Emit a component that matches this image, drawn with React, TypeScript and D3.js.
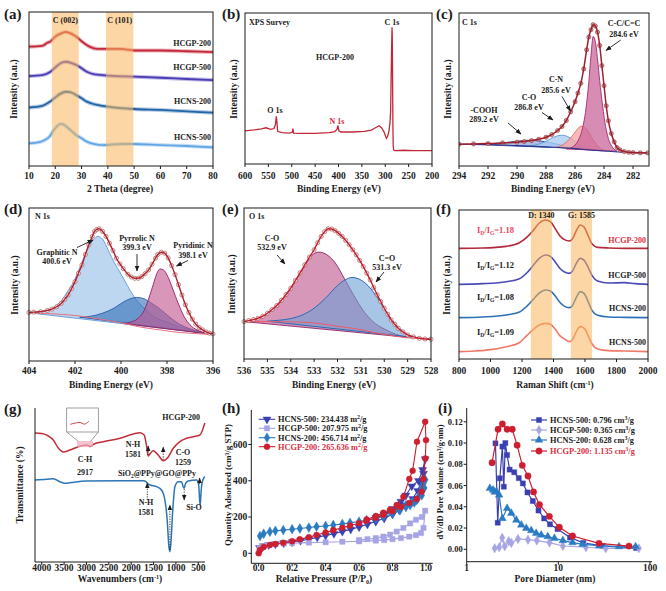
import React from 'react';
import * as d3 from 'd3';

type P = [number, number];
const FONT = '"Liberation Serif","Times New Roman",Times,serif';
const INK = '#1b1b1b';

/* ---------------- (a) XRD ---------------- */
const xrdTicks = [10, 20, 30, 40, 50, 60, 70, 80];
const xrdBands: P[] = [[18.7, 28.9], [39.3, 49.7]];
const xrdBandLabels = ['C (002)', 'C (101)'];
const xrdHCGP200: P[] = [[10, 77.5], [15, 78], [17, 80], [18, 80.7], [20, 84], [22, 86], [24, 87], [26, 86], [28, 84], [30, 81], [33, 77.5], [36, 76], [40, 76], [45, 76], [50, 75], [60, 75], [70, 74.5], [80, 74]];
const xrdHCGP500: P[] = [[10, 58.4], [15, 59], [18, 61], [20, 64], [22, 66.7], [24, 67.7], [26, 67], [28, 65.6], [30, 63.5], [32, 61.2], [35, 59.5], [38, 59], [42, 58.5], [50, 58], [60, 57.3], [70, 56.5], [80, 55.8]];
const xrdHCNS200: P[] = [[10, 38], [15, 39], [18, 41.8], [20, 44.5], [22, 47], [24, 48.2], [26, 47.8], [28, 46], [30, 44], [32, 41.8], [35, 40], [38, 39], [42, 38], [50, 37], [60, 36.4], [70, 35.5], [80, 34.6]];
const xrdHCNS500: P[] = [[10, 14.7], [14, 15.5], [16, 16.9], [18, 19.5], [19, 22.3], [20, 24.5], [22, 27.3], [23, 27], [25, 24.5], [28, 20], [30, 18], [32, 15.8], [35, 14.2], [38, 13.6], [45, 14.3], [50, 14.3], [60, 13.6], [70, 13], [80, 12.1]];
const xrdNames = ['HCGP-200', 'HCGP-500', 'HCNS-200', 'HCNS-500'];
const xrdColors = ['#c3283a', '#4a3db5', '#2264a8', '#62a6e6'];

/* ---------------- (b) XPS survey ---------------- */
const surveyTicks = [600, 550, 500, 450, 400, 350, 300, 250, 200];
const surveyHCGP200: P[] = [[600, 22], [580, 22.6], [565, 23.2], [555, 24], [545, 23], [538, 23.5], [535, 26], [533, 31.5], [531.5, 27], [530, 21.5], [520, 20.8], [505, 20.5], [499, 21], [497.5, 23.5], [496, 20.5], [480, 20.3], [450, 20.3], [420, 20.8], [408, 21.5], [403, 23], [401.5, 25.5], [399, 22], [395, 21.2], [370, 21.2], [345, 21.6], [330, 22.5], [318, 24.5], [313, 25.3], [308, 24], [303, 21.5], [300, 19], [297.5, 17], [295, 18.2], [292, 22], [290, 27], [288.5, 35], [287.5, 55], [286.5, 75], [285.5, 90.5], [285, 85], [284.3, 55], [283.6, 25], [283, 12], [282, 9.3], [280, 8.8], [260, 9.1], [240, 8.9], [200, 8.8]];

/* ---------------- (c) C 1s ---------------- */
const c1sTicks = [294, 292, 290, 288, 286, 284, 282];
const c1sRaw: P[] = [[294, 65], [293, 66], [292, 67], [291, 69], [290, 71], [289.5, 73], [289, 76], [288.5, 80], [288, 86], [287.6, 94], [287.2, 106], [286.9, 118], [286.6, 136], [286.3, 162], [286, 192], [285.8, 218], [285.6, 247], [285.4, 290], [285.2, 347], [285.05, 385], [284.9, 407], [284.75, 422], [284.6, 418], [284.45, 400], [284.3, 360], [284.15, 300], [284, 240], [283.85, 180], [283.7, 135], [283.5, 97], [283.3, 72], [283.1, 55], [282.9, 48], [282.6, 43], [282.3, 41], [282, 40], [281.5, 39.5], [281, 39]];
const c1sBase: P[] = [[294, 65], [292, 64], [290, 61], [288, 57], [286, 52], [285, 48], [284, 45], [283, 42], [282, 40], [281, 39]];
const c1sCC: P[] = [[286.6, 51], [286.2, 56], [285.8, 75], [285.5, 110], [285.25, 170], [285.05, 250], [284.9, 330], [284.75, 387], [284.6, 372], [284.45, 320], [284.3, 255], [284.1, 180], [283.9, 120], [283.7, 82], [283.4, 55], [283.1, 44]];
const c1sCN: P[] = [[287.3, 56], [286.9, 62], [286.5, 75], [286.1, 95], [285.8, 112], [285.6, 119], [285.4, 117], [285.1, 104], [284.8, 82], [284.5, 63], [284.2, 51], [283.9, 46]];
const c1sCO: P[] = [[289.2, 60], [288.7, 63], [288.2, 70], [287.7, 81], [287.3, 89], [286.9, 92], [286.5, 88], [286.1, 77], [285.7, 64], [285.3, 55], [284.9, 50]];
const c1sCOOH: P[] = [[292.8, 64], [292, 66], [291, 69], [290.2, 73], [289.6, 76], [289.2, 77], [288.7, 76], [288, 72], [287.3, 66], [286.6, 58], [286, 53]];

/* ---------------- (d) N 1s ---------------- */
const n1sTicks = [404, 402, 400, 398, 396];
const n1sRaw: P[] = [[404, 145], [403.8, 146], [403.5, 147], [403.2, 151], [403, 155], [402.8, 162], [402.6, 172], [402.45, 184], [402.3, 197], [402.15, 216], [402, 237], [401.85, 262], [401.7, 287], [401.55, 318], [401.4, 347], [401.25, 372], [401.15, 387], [401.05, 393], [400.95, 395], [400.8, 387], [400.65, 372], [400.5, 352], [400.35, 330], [400.2, 307], [400.05, 290], [399.9, 276], [399.7, 259], [399.55, 251], [399.4, 247], [399.25, 247], [399.1, 252], [398.95, 261], [398.8, 272], [398.65, 289], [398.5, 307], [398.4, 318], [398.25, 325], [398.1, 322], [397.95, 308], [397.8, 285], [397.65, 258], [397.5, 228], [397.35, 197], [397.2, 168], [397.05, 145], [396.9, 125], [396.75, 110], [396.6, 100], [396.45, 93], [396.3, 87], [396.15, 83], [396, 81]];
const n1sBase: P[] = [[404, 144], [403, 141], [402, 136], [401.1, 127], [400, 114], [399.2, 102], [398, 90], [397.7, 87], [397, 83], [396, 79]];
const n1sGraphitic: P[] = [[404, 144], [403.5, 148], [403, 158], [402.6, 180], [402.3, 210], [402, 245], [401.7, 295], [401.4, 340], [401.2, 362], [401, 372], [400.8, 364], [400.55, 330], [400.3, 295], [400.06, 267], [399.8, 235], [399.48, 197], [399.2, 172], [398.9, 152], [398.5, 130], [398.03, 117], [397.6, 105], [397.16, 97], [396.6, 88], [396.1, 81]];
const n1sPyrrolic: P[] = [[401.8, 131], [401.3, 134], [400.8, 143], [400.3, 158], [399.9, 176], [399.6, 186], [399.33, 190], [399.0, 186], [398.7, 174], [398.3, 155], [397.9, 132], [397.5, 112], [397.0, 96], [396.5, 86], [396, 80]];
const n1sPyridinic: P[] = [[399.9, 112], [399.6, 116], [399.3, 125], [399.0, 150], [398.8, 185], [398.6, 228], [398.45, 260], [398.3, 275], [398.15, 272], [397.95, 250], [397.75, 215], [397.5, 170], [397.25, 132], [397.0, 108], [396.7, 93], [396.4, 85], [396.1, 80]];

/* ---------------- (e) O 1s ---------------- */
const o1sTicks = [536, 535, 534, 533, 532, 531, 530, 529, 528];
const o1sRaw: P[] = [[536, 112], [535.8, 115], [535.6, 118], [535.4, 122], [535.2, 128], [535, 137], [534.8, 148], [534.6, 160], [534.4, 176], [534.2, 193], [534, 212], [533.8, 235], [533.6, 258], [533.4, 282], [533.2, 305], [533, 327], [532.85, 348], [532.7, 367], [532.55, 381], [532.4, 390], [532.25, 389], [532.1, 384], [531.95, 376], [531.8, 367], [531.65, 355], [531.5, 342], [531.35, 327], [531.2, 312], [531.05, 295], [530.9, 277], [530.75, 257], [530.6, 237], [530.45, 214], [530.3, 192], [530.15, 172], [530, 152], [529.85, 134], [529.7, 117], [529.55, 104], [529.4, 92], [529.2, 81], [529, 72], [528.75, 66], [528.5, 62], [528.25, 60], [528, 59]];
const o1sBase: P[] = [[536, 112], [535, 112], [534, 111], [533, 108], [532.66, 105], [532, 98], [531, 88], [530.5, 80], [530, 74], [529.1, 64], [528.5, 61], [528, 59]];
const o1sCO: P[] = [[536, 112], [535.5, 118], [535, 135], [534.5, 168], [534, 212], [533.5, 268], [533.1, 310], [532.8, 320], [532.5, 314], [532.1, 288], [531.7, 240], [531.3, 190], [530.9, 145], [530.5, 113], [530, 90], [529.5, 74], [529, 65]];
const o1sCdO: P[] = [[535, 113], [534.5, 116], [534, 121], [533.5, 132], [533, 152], [532.5, 183], [532, 220], [531.65, 238], [531.38, 244], [531.1, 240], [530.7, 220], [530.3, 184], [529.9, 140], [529.5, 103], [529.1, 78], [528.6, 64], [528, 59]];

/* ---------------- (f) Raman ---------------- */
const ramanTicks = [800, 1000, 1200, 1400, 1600, 1800, 2000];
const ramanBands: P[] = [[1256, 1390], [1510, 1645]];
const ramanBandLabels = ['D: 1340', 'G: 1585'];
const ramanHCGP200: P[] = [[800, 332], [950, 333], [1100, 338], [1180, 348], [1230, 365], [1270, 385], [1310, 408], [1350, 417], [1380, 412], [1410, 392], [1440, 370], [1470, 358], [1500, 354], [1520, 360], [1545, 385], [1570, 402], [1595, 395], [1620, 370], [1645, 345], [1680, 335], [1750, 333], [1850, 332], [2000, 332]];
const ramanHCGP500: P[] = [[800, 224], [950, 226], [1100, 232], [1180, 240], [1230, 258], [1270, 280], [1310, 302], [1350, 312], [1380, 308], [1410, 292], [1440, 272], [1470, 261], [1500, 257], [1520, 263], [1545, 287], [1570, 302], [1595, 296], [1620, 275], [1645, 250], [1680, 234], [1750, 228], [1850, 229], [1920, 226], [2000, 224]];
const ramanHCNS200: P[] = [[800, 124], [950, 126], [1100, 132], [1180, 140], [1230, 158], [1270, 178], [1310, 198], [1350, 207], [1380, 204], [1410, 190], [1440, 170], [1470, 158], [1500, 154], [1520, 160], [1545, 185], [1570, 202], [1595, 196], [1620, 172], [1645, 145], [1680, 131], [1750, 126], [1850, 125], [2000, 124]];
const ramanHCNS500: P[] = [[800, 22], [900, 24], [1000, 28], [1100, 37], [1180, 48], [1230, 70], [1270, 88], [1310, 102], [1350, 107], [1380, 104], [1410, 90], [1440, 70], [1470, 60], [1500, 52], [1520, 58], [1545, 82], [1570, 97], [1595, 92], [1620, 70], [1645, 45], [1680, 30], [1750, 25], [1850, 24], [2000, 22]];
const ramanRatios = ['1.18', '1.12', '1.08', '1.09'];
const ramanColors = ['#b3283a', '#4a4ab8', '#2e70b8', '#f07868'];

/* ---------------- (g) FTIR ---------------- */
const ftirTicks = [4000, 3500, 3000, 2500, 2000, 1500, 1000, 500];
const ftirHCGP200: P[] = [[4150, 129], [4000, 128.5], [3850, 126], [3741, 122], [3630, 114], [3517, 110], [3369, 112], [3184, 115.3], [3000, 117], [2917, 115.5], [2830, 118], [2624, 120.3], [2249, 123.7], [1950, 128], [1800, 129.3], [1710, 127], [1653, 115.3], [1620, 106], [1570, 108.7], [1508, 111.3], [1396, 107], [1284, 101.3], [1172, 105], [1060, 113.7], [911, 120.3], [762, 123.7], [614, 125.3], [465, 127], [405, 132], [368, 137], [353, 139]];
const ftirSiO2: P[] = [[4150, 82], [3890, 82.7], [3741, 83.3], [3592, 80.3], [3480, 78.7], [3369, 79.3], [3000, 81], [2249, 81.3], [1730, 81.3], [1660, 80], [1640, 78.7], [1570, 77], [1433, 75.3], [1322, 72], [1247, 62], [1195, 42], [1157, 15.3], [1135, 10.3], [1112, 19], [1075, 49], [1023, 75.3], [948, 80.3], [874, 80.3], [838, 75.3], [815, 73.7], [785, 78.7], [726, 81], [539, 82], [500, 79], [487, 75.3], [470, 62], [457, 57], [440, 68], [428, 75.3], [391, 82.7], [353, 85.3]];

/* ---------------- (h) N2 isotherms ---------------- */
const betTicksX = [0, 0.2, 0.4, 0.6, 0.8, 1.0];
const betTicksY = [0, 200, 400, 600];
const betHCNS500: P[] = [[0.005, 30], [0.03, 40], [0.06, 46], [0.1, 51], [0.15, 56], [0.2, 62], [0.25, 70], [0.3, 78], [0.35, 88], [0.4, 98], [0.45, 108], [0.5, 120], [0.55, 132], [0.6, 145], [0.65, 160], [0.7, 175], [0.75, 193], [0.8, 215], [0.84, 238], [0.88, 265], [0.92, 300], [0.95, 345], [0.97, 390], [0.985, 440], [0.995, 520], [0.98, 460], [0.955, 400], [0.915, 370], [0.88, 320], [0.85, 285], [0.8, 245], [0.75, 215], [0.7, 195]];
const betHCGP500: P[] = [[0.005, 28], [0.02, 38], [0.05, 44], [0.1, 50], [0.15, 54], [0.2, 56], [0.3, 59], [0.4, 61], [0.5, 64], [0.6, 66], [0.7, 70], [0.75, 73], [0.8, 78], [0.85, 84], [0.9, 92], [0.94, 100], [0.97, 112], [0.985, 140], [0.995, 235], [0.975, 200], [0.94, 185], [0.905, 165], [0.865, 140], [0.825, 120], [0.785, 103], [0.745, 92], [0.7, 84], [0.65, 78], [0.6, 74]];
const betHCNS200: P[] = [[0.008, 95], [0.03, 108], [0.067, 119], [0.1, 124], [0.147, 128], [0.2, 133], [0.246, 137], [0.3, 142], [0.346, 147], [0.4, 151], [0.446, 156], [0.5, 162], [0.546, 168], [0.6, 175], [0.645, 183], [0.7, 192], [0.745, 202], [0.8, 218], [0.845, 238], [0.88, 255], [0.905, 266], [0.93, 280], [0.944, 293], [0.964, 330], [0.974, 360], [0.984, 385], [0.996, 405], [0.99, 360], [0.975, 320], [0.95, 300], [0.92, 285], [0.88, 265], [0.84, 245], [0.8, 228], [0.75, 212]];
const betHCGP200: P[] = [[0, 0], [0.008, 18], [0.03, 35], [0.067, 46], [0.1, 51], [0.147, 58], [0.2, 67], [0.246, 77], [0.3, 89], [0.346, 101], [0.4, 115], [0.446, 128], [0.5, 141], [0.546, 153], [0.6, 166], [0.645, 180], [0.7, 196], [0.745, 212], [0.8, 232], [0.85, 255], [0.9, 278], [0.944, 300], [0.974, 340], [0.984, 410], [0.996, 523], [1.0, 624], [0.995, 725], [0.946, 615], [0.92, 455], [0.9, 410], [0.865, 312], [0.825, 266], [0.785, 240], [0.745, 224], [0.7, 206], [0.645, 186]];
const betLegend = ['HCNS-500: 234.438 m', 'HCGP-500: 207.975 m', 'HCNS-200: 456.714 m', 'HCGP-200: 265.636 m'];

/* ---------------- (i) pore size ---------------- */
const psdTicksX = [1, 10, 100];
const psdTicksY = [0, 0.02, 0.04, 0.06, 0.08, 0.1, 0.12];
const psdHCNS500: P[] = [[2.06, 0.0997], [2.18, 0.025], [2.3, 0.0668], [2.45, 0.0967], [2.54, 0.0589], [2.64, 0.1], [2.76, 0.0887], [2.94, 0.075], [3.3, 0.0725], [3.7, 0.067], [4.1, 0.062], [4.6, 0.0535], [5.27, 0.0454], [6.07, 0.0365], [7.0, 0.029], [8.1, 0.0235], [9.8, 0.019], [13.4, 0.011], [18.7, 0.006], [30.8, 0.003], [70.6, 0.0012]];
const psdHCGP500: P[] = [[2.02, 0.0009], [2.26, 0.0019], [2.44, 0.0109], [2.6, 0.0028], [2.87, 0.0075], [3.07, 0.006], [3.63, 0.0097], [4.66, 0.009], [5.82, 0.0082], [8.0, 0.0063], [11.2, 0.0031], [20, 0.0019], [32.9, 0.0009], [75.5, 0.0009]];
const psdHCNS200: P[] = [[1.79, 0.0574], [1.94, 0.0558], [2.02, 0.054], [2.11, 0.0543], [2.26, 0.0511], [2.45, 0.029], [2.76, 0.0386], [3.07, 0.034], [3.48, 0.0275], [3.94, 0.0229], [4.47, 0.0198], [5.06, 0.0176], [5.73, 0.0151], [6.5, 0.0135], [7.67, 0.012], [9.06, 0.0104], [11.2, 0.0082], [14.3, 0.0063], [18.4, 0.0047], [27.9, 0.0034], [45.9, 0.0025], [69.5, 0.0025]];
const psdHCGP200: P[] = [[1.89, 0.0815], [2.2, 0.113], [2.45, 0.118], [2.76, 0.113], [3.14, 0.113], [3.55, 0.098], [4.04, 0.079], [4.66, 0.069], [5.36, 0.054], [6.22, 0.042], [7.98, 0.031], [10.25, 0.0207], [14.3, 0.0125], [27.8, 0.0056], [59, 0.003]];
const psdLegend = ['HCNS-500: 0.796 cm', 'HCGP-500: 0.365 cm', 'HCNS-200: 0.628 cm', 'HCGP-200: 1.135 cm'];

const sorbColors = ['#3b40b0', '#a7a4e4', '#2a7bc2', '#cc1f2f'];

/* ---------------- helpers ---------------- */
const lineOf = (sx: any, sy: any, curve: any = d3.curveMonotoneX) =>
  d3.line<P>().x(d => sx(d[0])).y(d => sy(d[1])).curve(curve);

function Box({ x0, x1, y0, y1 }: any) {
  return <rect x={x0} y={y0} width={x1 - x0} height={y1 - y0} fill="none" stroke={INK} strokeWidth={1} />;
}
function XAxis({ s, ticks, y, ly, fmt }: any) {
  return (
    <g>
      {ticks.map((t: number) => (
        <g key={t}>
          <line x1={s(t)} x2={s(t)} y1={y} y2={y + 3} stroke={INK} strokeWidth={1} />
          <text x={s(t)} y={ly} textAnchor="middle" fontSize={9.5} fontWeight={700} fill={INK}>{fmt ? fmt(t) : t}</text>
        </g>
      ))}
    </g>
  );
}
function YAxis({ s, ticks, x, fmt, size = 9.5 }: any) {
  return (
    <g>
      {ticks.map((t: number) => (
        <g key={t}>
          <line x1={x - 3} x2={x} y1={s(t)} y2={s(t)} stroke={INK} strokeWidth={1} />
          <text x={x - 4} y={s(t) + 3.2} textAnchor="end" fontSize={size} fontWeight={700} fill={INK}>{fmt ? fmt(t) : t}</text>
        </g>
      ))}
    </g>
  );
}
function YTitle({ x, y, children, size = 9.5 }: any) {
  return (
    <text transform={`translate(${x},${y}) rotate(-90)`} textAnchor="middle" fontSize={size} fontWeight={700} fill={INK}>{children}</text>
  );
}
function L({ x, y, a = 'middle', s = 8, c = INK, children }: any) {
  return <text x={x} y={y} textAnchor={a} fontSize={s} fontWeight={700} fill={c}>{children}</text>;
}
function Tag({ x, y, t }: any) {
  return <text x={x} y={y} fontSize={15} fontWeight={700} fill={INK}>{t}</text>;
}
function Arr({ x1, y1, x2, y2, dash }: any) {
  return <line x1={x1} y1={y1} x2={x2} y2={y2} stroke={INK} strokeWidth={dash ? 0.8 : 0.9} strokeDasharray={dash ? '1.3 1.2' : undefined} markerEnd="url(#ah)" />;
}
function Dots({ pts, sx, sy, stroke, fill }: any) {
  return (
    <g>
      {pts.map((d: P, i: number) => (
        <circle key={i} cx={sx(d[0])} cy={sy(d[1])} r={2.1} fill={fill} stroke={stroke} strokeWidth={0.6} />
      ))}
    </g>
  );
}
function Sym({ type, x, y, size, fill, rot = 0 }: any) {
  const p = d3.symbol().type(type).size(size)() as string;
  return <path d={p} transform={`translate(${x},${y}) rotate(${rot})`} fill={fill} stroke={fill} strokeWidth={0.4} />;
}
function Sup({ base, sup, post }: any) {
  return (<>{base}<tspan dy={-3} fontSize={6}>{sup}</tspan><tspan dy={3}>{post}</tspan></>);
}

export default function App() {
  /* scales */
  const ax = d3.scaleLinear().domain([10, 80]).range([29, 213]);
  const ay = d3.scaleLinear().domain([0, 100]).range([166, 12]);
  const bx = d3.scaleLinear().domain([600, 200]).range([245, 432]);
  const by = d3.scaleLinear().domain([0, 100]).range([164, 13]);
  const cx = d3.scaleLinear().domain([294, 280.9]).range([459, 649]);
  const cy = d3.scaleLinear().domain([0, 457]).range([166, 13]);
  const dx = d3.scaleLinear().domain([404, 396]).range([29, 213]);
  const dy = d3.scaleLinear().domain([0, 457]).range([361, 208]);
  const ex = d3.scaleLinear().domain([536, 528]).range([244, 431]);
  const ey = d3.scaleLinear().domain([0, 452]).range([359, 208]);
  const fx = d3.scaleLinear().domain([800, 2000]).range([459, 648]);
  const fy = d3.scaleLinear().domain([0, 447]).range([359, 210]);
  const gx = d3.scaleLinear().domain([4150, 350]).range([35, 205]);
  const gy = d3.scaleLinear().domain([0, 154]).range([562, 408]);
  const hx = d3.scaleLinear().domain([-0.044, 1.04]).range([251.3, 432.7]);
  const hy = d3.scaleLinear().domain([-55, 790]).range([563.3, 410]);
  const ix = d3.scaleLog().domain([1, 100]).range([466.7, 650]);
  const iy = d3.scaleLinear().domain([-0.0117, 0.133]).range([561.7, 408]);

  const la = lineOf(ax, ay);
  const lb = lineOf(bx, by, d3.curveLinear);
  const lc = lineOf(cx, cy);
  const ld = lineOf(dx, dy);
  const le = lineOf(ex, ey);
  const lf = lineOf(fx, fy);
  const lg = lineOf(gx, gy);
  const lh = lineOf(hx, hy, d3.curveLinear);
  const li = lineOf(ix, iy, d3.curveLinear);

  const xrdSeries = [xrdHCGP200, xrdHCGP500, xrdHCNS200, xrdHCNS500];
  const xrdLabelY = [45.5, 70, 104, 140];
  const ramanSeries = [ramanHCGP200, ramanHCGP500, ramanHCNS200, ramanHCNS500];
  const ramanRatioY = [233, 268, 300, 335];
  const ramanNameY = [243, 278, 311, 345];
  const betSeries = [betHCNS500, betHCGP500, betHCNS200, betHCGP200];
  const psdSeries = [psdHCNS500, psdHCGP500, psdHCNS200, psdHCGP200];
  const symTypes = [d3.symbolTriangle, d3.symbolSquare, d3.symbolDiamond, d3.symbolCircle];
  const symRot = [180, 0, 0, 0];
  const psdSym = [d3.symbolSquare, d3.symbolDiamond, d3.symbolTriangle, d3.symbolCircle];

  // inset in (g): magnified part of the red FTIR curve
  const insetPts = ftirHCGP200.filter(d => d[0] <= 3250 && d[0] >= 2650);
  const insX = d3.scaleLinear().domain([3250, 2650]).range([67, 98]);
  const insY = d3.scaleLinear().domain([112, 121]).range([428, 418]);
  const lIns = lineOf(insX, insY);

  const fillPath = (gen: any, pts: P[]) => gen(pts) + 'Z';

  return (
    <svg width={666} height={591} style={{ position: 'absolute', left: 0, top: 0, background: '#fff' }} fontFamily={FONT}>
      <defs>
        <marker id="ah" viewBox="0 0 10 10" refX="9" refY="5" markerWidth="6" markerHeight="6" markerUnits="userSpaceOnUse" orient="auto">
          <path d="M0,1 L10,5 L0,9 Z" fill={INK} />
        </marker>
        <clipPath id="clA"><rect x={29} y={12} width={184} height={154} /></clipPath>
        <clipPath id="clB"><rect x={245} y={13} width={187} height={151} /></clipPath>
        <clipPath id="clC"><rect x={459} y={13} width={190} height={153} /></clipPath>
        <clipPath id="clF"><rect x={459} y={210} width={189} height={149} /></clipPath>
      </defs>
      <rect x={0} y={0} width={666} height={591} fill="#fff" />

      {/* ---------- (a) ---------- */}
      <g clipPath="url(#clA)">
        {xrdSeries.map((s, i) => (
          <g key={i}>
            <path d={la(s) as string} fill="none" stroke={xrdColors[i]} strokeWidth={4} strokeOpacity={0.35} />
            <path d={la(s) as string} fill="none" stroke={xrdColors[i]} strokeWidth={1.8} />
          </g>
        ))}
      </g>
      {xrdBands.map((b, i) => (
        <g key={i}>
          <rect x={ax(b[0])} y={12} width={ax(b[1]) - ax(b[0])} height={154} fill="#f9b45a" opacity={0.55} />
          <L x={(ax(b[0]) + ax(b[1])) / 2} y={23}>{xrdBandLabels[i]}</L>
        </g>
      ))}
      {xrdNames.map((n, i) => <L key={n} x={211} y={xrdLabelY[i]} a="end">{n}</L>)}
      <Box x0={29} x1={213} y0={12} y1={166} />
      <XAxis s={ax} ticks={xrdTicks} y={166} ly={179} />
      <L x={120} y={192} s={9.5}>2 Theta (degree)</L>
      <YTitle x={17} y={89}>Intensity (a.u.)</YTitle>
      <Tag x={4} y={19} t="(a)" />

      {/* ---------- (b) ---------- */}
      <g clipPath="url(#clB)">
        <path d={lb(surveyHCGP200) as string} fill="none" stroke="#c0283a" strokeWidth={1.3} />
      </g>
      <Box x0={245} x1={432} y0={13} y1={164} />
      <XAxis s={bx} ticks={surveyTicks} y={164} ly={179} />
      <L x={339} y={192} s={9.5}>Binding Energy (eV)</L>
      <YTitle x={236.5} y={89}>Intensity (a.u.)</YTitle>
      <L x={249} y={25} a="start">XPS Survey</L>
      <L x={335} y={60}>HCGP-200</L>
      <L x={392} y={25}>C 1s</L>
      <L x={275} y={113}>O 1s</L>
      <L x={337} y={124} c="#d8303f">N 1s</L>
      <Tag x={222} y={19} t="(b)" />

      {/* ---------- (c) ---------- */}
      <g clipPath="url(#clC)">
        <path d={fillPath(lc, c1sCOOH)} fill="#6a86d0" fillOpacity={0.55} stroke="#28409a" strokeWidth={0.9} />
        <path d={fillPath(lc, c1sCO)} fill="#a9cdf2" fillOpacity={0.8} stroke="#5b9bd5" strokeWidth={0.9} />
        <path d={fillPath(lc, c1sCN)} fill="#f4a3a0" fillOpacity={0.75} stroke="#e66a66" strokeWidth={0.9} />
        <path d={fillPath(lc, c1sCC)} fill="#c9669a" fillOpacity={0.75} stroke="#a8286a" strokeWidth={0.9} />
        <path d={lc(c1sBase) as string} fill="none" stroke="#2a3590" strokeWidth={1.1} />
        <Dots pts={c1sRaw} sx={cx} sy={cy} stroke="#8b3a3a" fill="#d49a9a" />
        <path d={lc(c1sRaw) as string} fill="none" stroke="#a01f2f" strokeWidth={1.5} />
      </g>
      <Box x0={459} x1={649} y0={13} y1={166} />
      <XAxis s={cx} ticks={c1sTicks} y={166} ly={179} />
      <L x={553} y={192} s={9.5}>Binding Energy (eV)</L>
      <YTitle x={450.5} y={89}>Intensity (a.u.)</YTitle>
      <L x={462} y={25} a="start">C 1s</L>
      <L x={624} y={26}>C-C/C=C</L>
      <L x={624} y={36.5}>284.6 eV</L>
      <Arr x1={620.7} y1={40} x2={606} y2={50.5} />
      <L x={556} y={82}>C-N</L>
      <L x={556} y={92.5}>285.6 eV</L>
      <Arr x1={562} y1={96.5} x2={570.5} y2={111} />
      <L x={529} y={100}>C-O</L>
      <L x={529} y={110}>286.8 eV</L>
      <Arr x1={542} y1={112.5} x2={553} y2={120} />
      <L x={484} y={112.5}>-COOH</L>
      <L x={484} y={122}>289.2 eV</L>
      <Arr x1={508} y1={123} x2={521} y2={134} />
      <Tag x={436} y={19} t="(c)" />

      {/* ---------- (d) ---------- */}
      <g>
        <path d={fillPath(ld, n1sGraphitic)} fill="#b7d3f0" fillOpacity={0.9} stroke="#5d9ad6" strokeWidth={0.9} />
        <path d={fillPath(ld, n1sPyrrolic)} fill="#2f6db5" fillOpacity={0.6} stroke="#2a5fa5" strokeWidth={0.9} />
        <path d={fillPath(ld, n1sPyridinic)} fill="#c2558e" fillOpacity={0.62} stroke="#9a1f62" strokeWidth={0.9} />
        <path d={ld(n1sBase) as string} fill="none" stroke="#e87080" strokeWidth={1} />
        <Dots pts={n1sRaw} sx={dx} sy={dy} stroke="#a04848" fill="#f6e8e8" />
        <path d={ld(n1sRaw) as string} fill="none" stroke="#b3202e" strokeWidth={1.4} />
      </g>
      <Box x0={29} x1={213} y0={208} y1={361} />
      <XAxis s={dx} ticks={n1sTicks} y={361} ly={374} />
      <L x={111} y={388} s={9.5}>Binding Energy (eV)</L>
      <YTitle x={17.5} y={285}>Intensity (a.u.)</YTitle>
      <L x={35} y={218.5} a="start">N 1s</L>
      <L x={57} y={254.5}>Graphitic N</L>
      <L x={57} y={264}>400.6 eV</L>
      <Arr x1={77} y1={247.5} x2={93} y2={240} />
      <L x={137} y={240.5}>Pyrrolic N</L>
      <L x={137} y={249.5}>399.3 eV</L>
      <Arr x1={137} y1={254} x2={137} y2={271} />
      <L x={193} y={248}>Pyridinic N</L>
      <L x={193} y={258}>398.1 eV</L>
      <Arr x1={188} y1={260.5} x2={176.5} y2={266} />
      <Tag x={4} y={214} t="(d)" />

      {/* ---------- (e) ---------- */}
      <g>
        <path d={fillPath(le, o1sCO)} fill="#c66b9b" fillOpacity={0.7} stroke="#8d2466" strokeWidth={0.9} />
        <path d={fillPath(le, o1sCdO)} fill="#6c9fd4" fillOpacity={0.6} stroke="#2a6ab4" strokeWidth={1} />
        <path d={le(o1sBase) as string} fill="none" stroke="#ee5a6a" strokeWidth={1} />
        <Dots pts={o1sRaw} sx={ex} sy={ey} stroke="#a04848" fill="#f6e8e8" />
        <path d={le(o1sRaw) as string} fill="none" stroke="#c42030" strokeWidth={1.4} />
      </g>
      <Box x0={244} x1={431} y0={208} y1={359} />
      <XAxis s={ex} ticks={o1sTicks} y={359} ly={374} />
      <L x={334} y={388} s={9.5}>Binding Energy (eV)</L>
      <YTitle x={234.5} y={284}>Intensity (a.u.)</YTitle>
      <L x={249} y={218.5} a="start">O 1s</L>
      <L x={272} y={240.5}>C-O</L>
      <L x={272} y={249.5}>532.9 eV</L>
      <Arr x1={277} y1={255} x2={285} y2={264} />
      <L x={387} y={261}>C=O</L>
      <L x={387} y={269.5}>531.3 eV</L>
      <Arr x1={384} y1={272} x2={376} y2={282} />
      <Tag x={222} y={214} t="(e)" />

      {/* ---------- (f) ---------- */}
      <g clipPath="url(#clF)">
        {ramanSeries.map((s, i) => (
          <path key={i} d={lf(s) as string} fill="none" stroke={ramanColors[i]} strokeWidth={1.6} />
        ))}
      </g>
      {ramanBands.map((b, i) => (
        <g key={i}>
          <rect x={fx(b[0])} y={210} width={fx(b[1]) - fx(b[0])} height={149} fill="#f9b45a" opacity={0.55} />
          <L x={(fx(b[0]) + fx(b[1])) / 2} y={217.5}>{ramanBandLabels[i]}</L>
        </g>
      ))}
      {ramanRatios.map((r, i) => (
        <text key={r + i} x={477} y={ramanRatioY[i]} fontSize={8.5} fontWeight={700} fill={i === 0 ? '#e8485a' : INK}>
          I<tspan dy={2} fontSize={5.5}>D</tspan><tspan dy={-2}>/I</tspan><tspan dy={2} fontSize={5.5}>G</tspan><tspan dy={-2}>={r}</tspan>
        </text>
      ))}
      {xrdNames.map((n, i) => <L key={n} x={646} y={ramanNameY[i]} a="end" c={i === 0 ? '#e03040' : INK}>{n}</L>)}
      <Box x0={459} x1={648} y0={210} y1={359} />
      <XAxis s={fx} ticks={ramanTicks} y={359} ly={374} />
      <text x={555} y={388} textAnchor="middle" fontSize={9.5} fontWeight={700} fill={INK}>Raman Shift (cm<tspan dy={-3} fontSize={6}>-1</tspan><tspan dy={3}>)</tspan></text>
      <YTitle x={449.5} y={285}>Intensity (a.u.)</YTitle>
      <Tag x={436} y={214} t="(f)" />

      {/* ---------- (g) ---------- */}
      <path d={lg(ftirHCGP200) as string} fill="none" stroke="#c0303a" strokeWidth={1.5} />
      <path d={lg(ftirSiO2) as string} fill="none" stroke="#2e75b6" strokeWidth={1.5} />
      <line x1={35} x2={35} y1={408} y2={562} stroke={INK} strokeWidth={1} />
      <line x1={35} x2={205} y1={562} y2={562} stroke={INK} strokeWidth={1} />
      <XAxis s={gx} ticks={ftirTicks} y={562} ly={571} />
      <L x={120} y={582} s={9.5}>Wavenumbers (cm<tspan dy={-3} fontSize={6}>-1</tspan><tspan dy={3}>)</tspan></L>
      <YTitle x={22.5} y={485}>Transmittance (%)</YTitle>
      <L x={200} y={420} a="end">HCGP-200</L>
      <rect x={66.7} y={408} width={31.6} height={24} fill="#fff" stroke="#777" strokeWidth={0.7} />
      <path d={lIns(insetPts) as string} fill="none" stroke="#c0303a" strokeWidth={0.9} />
      <line x1={66.7} y1={432} x2={79} y2={442} stroke="#777" strokeWidth={0.7} />
      <line x1={98.3} y1={432} x2={90} y2={442} stroke="#777" strokeWidth={0.7} />
      <rect x={77} y={441} width={16} height={6} fill="#f4a9bd" opacity={0.7} />
      <L x={85} y={462.3}>C-H</L>
      <L x={85} y={474.7}>2917</L>
      <L x={133} y={447}>N-H</L>
      <L x={133} y={457}>1581</L>
      <Arr x1={gx(1620)} y1={455} x2={gx(1620)} y2={446} dash />
      <Arr x1={gx(1284)} y1={460} x2={gx(1284)} y2={447} dash />
      <L x={183} y={454.7}>C-O</L>
      <L x={183} y={464.7}>1259</L>
      <text x={157} y={476.3} textAnchor="middle" fontSize={8} fontWeight={700} fill={INK}>SiO<tspan dy={2} fontSize={5.5}>2</tspan><tspan dy={-2}>@PPy@GO@PPy</tspan></text>
      <Arr x1={gx(1640)} y1={500} x2={gx(1640)} y2={483} dash />
      <L x={146} y={504.7}>N-H</L>
      <L x={146} y={514.7}>1581</L>
      <Arr x1={gx(1135)} y1={550} x2={gx(1135)} y2={505} dash />
      <Arr x1={gx(815)} y1={489} x2={gx(815)} y2={500} dash />
      <L x={194} y={510.3}>Si-O</L>
      <Arr x1={gx(470)} y1={484} x2={gx(470)} y2={478} dash />
      <Tag x={4} y={414} t="(g)" />

      {/* ---------- (h) ---------- */}
      {betSeries.map((s, i) => (
        <g key={i}>
          <path d={lh(s) as string} fill="none" stroke={sorbColors[i]} strokeWidth={1.1} />
          {s.map((d, j) => (
            <Sym key={j} type={symTypes[i]} x={hx(d[0])} y={hy(d[1])} size={28} fill={sorbColors[i]} rot={symRot[i]} />
          ))}
        </g>
      ))}
      <line x1={251.3} x2={251.3} y1={410} y2={563.3} stroke={INK} strokeWidth={1} />
      <line x1={251.3} x2={432.7} y1={563.3} y2={563.3} stroke={INK} strokeWidth={1} />
      <XAxis s={hx} ticks={betTicksX} y={563.3} ly={571} fmt={(t: number) => t.toFixed(1)} />
      <YAxis s={hy} ticks={betTicksY} x={251.3} />
      <L x={324} y={582} s={9.5}>Relative Pressure (P/P<tspan dy={2} fontSize={6}>0</tspan><tspan dy={-2}>)</tspan></L>
      <YTitle x={230.5} y={485} size={9}>Quantity Adsorbed (cm³/g STP)</YTitle>
      {betLegend.map((t, i) => {
        const yy = [419.3, 428.3, 437.7, 446.7][i];
        return (
          <g key={t}>
            <line x1={258.7} x2={275.3} y1={yy} y2={yy} stroke={sorbColors[i]} strokeWidth={1.1} />
            <Sym type={symTypes[i]} x={267} y={yy} size={28} fill={sorbColors[i]} rot={symRot[i]} />
            <text x={278} y={yy + 3} fontSize={8.3} fontWeight={700} fill={i === 3 ? '#d8303f' : INK}>
              <Sup base={t} sup="2" post="/g" />
            </text>
          </g>
        );
      })}
      <Tag x={222} y={413} t="(h)" />

      {/* ---------- (i) ---------- */}
      {psdSeries.map((s, i) => (
        <g key={i}>
          <path d={li(s) as string} fill="none" stroke={sorbColors[i]} strokeWidth={1.2} />
          {s.map((d, j) => (
            <Sym key={j} type={psdSym[i]} x={ix(d[0])} y={iy(d[1])} size={i === 3 ? 32 : 26} fill={sorbColors[i]} />
          ))}
        </g>
      ))}
      <line x1={466.7} x2={466.7} y1={408} y2={561.7} stroke={INK} strokeWidth={1} />
      <line x1={466.7} x2={652} y1={561.7} y2={561.7} stroke={INK} strokeWidth={1} />
      <XAxis s={ix} ticks={psdTicksX} y={561.7} ly={571} />
      <YAxis s={iy} ticks={psdTicksY} x={466.7} size={8.5} fmt={(t: number) => t.toFixed(2)} />
      <L x={555} y={582} s={9.5}>Pore Diameter (nm)</L>
      <YTitle x={443} y={482} size={8.5}>dV/dD Pore Volume (cm³/g·nm)</YTitle>
      {psdLegend.map((t, i) => {
        const yy = [420, 430, 440, 451][i];
        return (
          <g key={t}>
            <line x1={531} x2={547} y1={yy} y2={yy} stroke={sorbColors[i]} strokeWidth={1.2} />
            <Sym type={psdSym[i]} x={539} y={yy} size={i === 3 ? 32 : 26} fill={sorbColors[i]} />
            <text x={550} y={yy + 3} fontSize={8.3} fontWeight={700} fill={i === 3 ? '#d8303f' : INK}>
              <Sup base={t} sup="3" post="/g" />
            </text>
          </g>
        );
      })}
      <Tag x={438} y={413} t="(i)" />
    </svg>
  );
}
